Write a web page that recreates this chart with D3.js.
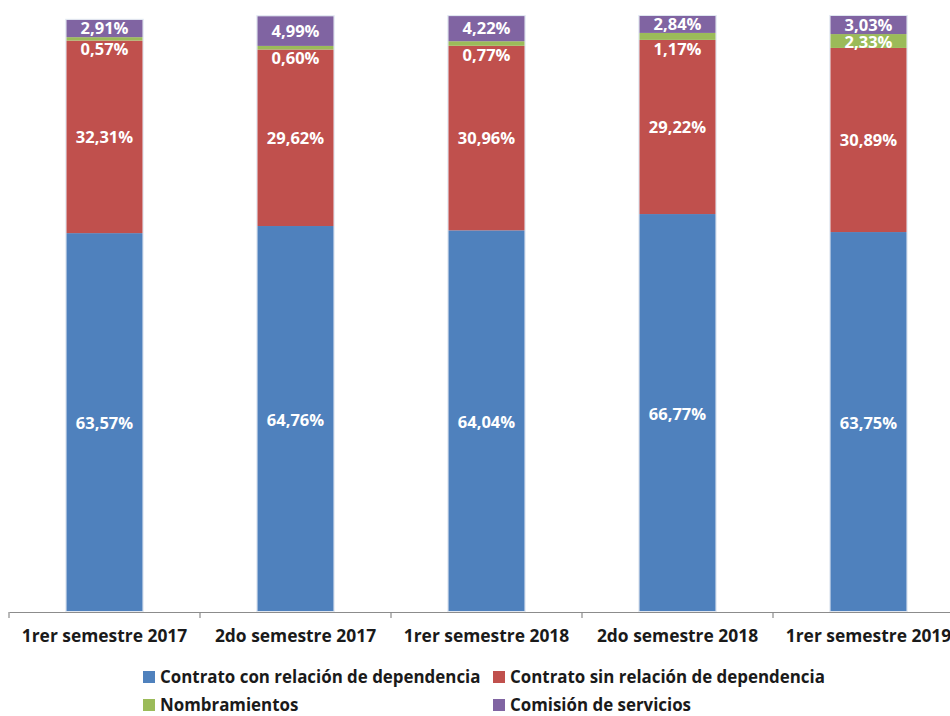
<!DOCTYPE html>
<html><head><meta charset="utf-8">
<script src="https://cdn.jsdelivr.net/npm/d3@7"></script>
<style>body{margin:0;background:#fff}svg{display:block}</style>
</head><body>
<script>
const categories = ["1rer semestre 2017","2do semestre 2017","1rer semestre 2018","2do semestre 2018","1rer semestre 2019"];
const seriesNames = ["Contrato con relación de dependencia","Contrato sin relación de dependencia","Nombramientos","Comisión de servicios"];
const conRelacion = [63.57, 64.76, 64.04, 66.77, 63.75];
const sinRelacion = [32.31, 29.62, 30.96, 29.22, 30.89];
const nombramientos = [0.57, 0.60, 0.77, 1.17, 2.33];
const comision = [2.91, 4.99, 4.22, 2.84, 3.03];
const colors = ["#4F81BD","#C0504D","#9BBB59","#8064A2"];

const W = 950, H = 716;
const svg = d3.select("body").append("svg").attr("width", W).attr("height", H);
const font = "'Open Sans', Lato, sans-serif";

const x = d3.scaleBand().domain(categories).range([9, 964]).paddingInner(0).paddingOuter(0);
const y = d3.scaleLinear().domain([0, 100]).range([612, 16]);

const rows = categories.map((c, i) => ({cat: c, v: [conRelacion[i], sinRelacion[i], nombramientos[i], comision[i]]}));
const stack = d3.stack().keys([0,1,2,3]).value((d, k) => d.v[k]);
const layers = stack(rows);

const barW = x.bandwidth() * 0.4;
const g = svg.append("g");
layers.forEach((layer, k) => {
  g.selectAll(null).data(layer).enter().append("rect")
    .attr("x", d => x(d.data.cat) + (x.bandwidth() - barW) / 2)
    .attr("y", d => y(d[1]))
    .attr("width", barW)
    .attr("height", d => y(d[0]) - y(d[1]))
    .attr("fill", colors[k]);
});
// bar outline glow
g.selectAll(null).data(layers[3]).enter().append("rect")
  .attr("x", d => x(d.data.cat) + (x.bandwidth() - barW) / 2 - 0.5)
  .attr("y", d => y(d[1]) - 0.5)
  .attr("width", barW + 1)
  .attr("height", d => y(0) - y(d[1]))
  .attr("fill", "none").attr("stroke", "#dfe6f0").attr("stroke-width", 1);

// labels
layers.forEach((layer, k) => {
  g.selectAll(null).data(layer).enter().append("text")
    .attr("x", d => x(d.data.cat) + x.bandwidth() / 2)
    .attr("y", d => {
      const top = y(d[1]), bot = y(d[0]);
      if (k === 2 && bot - top < 10) return bot + 9;
      return (top + bot) / 2 + (k === 2 ? 1.5 : 0) + (k === 0 ? 1 : 0);
    })
    .attr("dy", "0.35em")
    .attr("text-anchor", "middle")
    .attr("fill", "#fff")
    .style("font-family", font).style("font-weight", "700").style("font-size", "16.5px")
    .text(d => (d[1] - d[0]).toFixed(2).replace(".", ",") + "%");
});

// axis
const axis = d3.axisBottom(x).tickSize(0).tickPadding(18);
const ax = svg.append("g").attr("transform", "translate(0,612)").call(axis);
ax.select(".domain").attr("stroke", "#8c8c8c").attr("stroke-width", 1.2);
ax.selectAll("text").style("font-family", font).style("font-weight", "700").style("font-size", "17.4px").attr("fill", "#1a1a1a");
// category boundary ticks
const bounds = categories.map(c => x(c));
ax.selectAll(".bound").data(bounds).enter().append("line")
  .attr("x1", d => d).attr("x2", d => d).attr("y1", 0).attr("y2", 6)
  .attr("stroke", "#8c8c8c").attr("stroke-width", 1.2);

// legend
const legendPos = [[143, 677],[493, 677],[143, 705],[493, 705]];
const lg = svg.append("g");
seriesNames.forEach((s, k) => {
  const [lx, ly] = legendPos[k];
  lg.append("rect").attr("x", lx).attr("y", ly - 6).attr("width", 12).attr("height", 12).attr("fill", colors[k]);
  lg.append("text").attr("x", lx + 17).attr("y", ly).attr("dy", "0.35em")
    .style("font-family", font).style("font-weight", "700").style("font-size", "16.9px").attr("fill", "#1a1a1a")
    .text(s);
});
</script>
</body></html>
